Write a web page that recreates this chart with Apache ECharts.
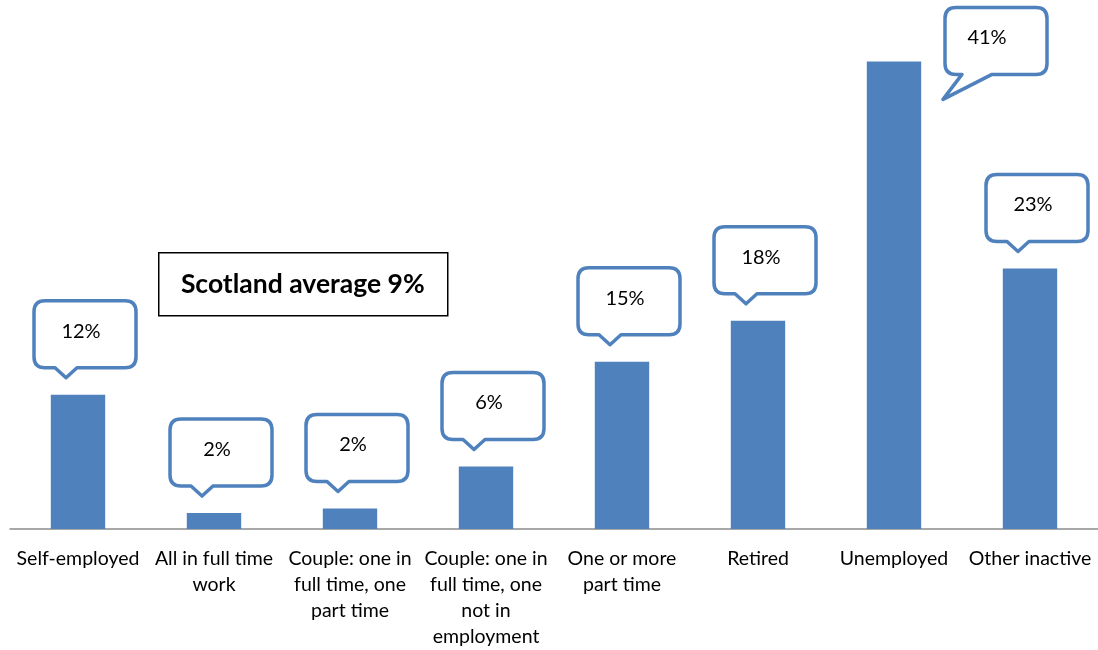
<!DOCTYPE html>
<html>
<head>
<meta charset="utf-8">
<script src="https://cdn.jsdelivr.net/npm/echarts@6/dist/echarts.min.js"></script>
<style>
  html, body { margin: 0; padding: 0; background: #fff; }
  #chart { width: 1098px; height: 650px; }
</style>
</head>
<body>
<div id="chart"></div>
<script>
  const categories = [
    'Self-employed',
    'All in full time\nwork',
    'Couple: one in\nfull time, one\npart time',
    'Couple: one in\nfull time, one\nnot in\nemployment',
    'One or more\npart time',
    'Retired',
    'Unemployed',
    'Other inactive'
  ];
  const rates = [11.8, 1.4, 1.8, 5.5, 14.7, 18.3, 41.1, 22.9];
  const rateLabels = ['12%', '2%', '2%', '6%', '15%', '18%', '41%', '23%'];
  const averageText = 'Scotland average 9%';

  const blue = '#4F81BD';
  const font = 'Lato, "Open Sans", sans-serif';

  // speech bubble above the bar, or to the right when there is no room above
  function bubble(params, api) {
    const i = api.value(0);
    const top = api.coord([i, api.value(1)]);
    const w = 102, h = 67, r = 11;
    let x, y, tail, tx;
    if (top[1] - 26 - h - 11 > 0) {
      x = top[0] - 44;
      y = top[1] - 27 - h;
      tail = [[x + 43, y + h], [x + 32, y + h + 10], [x + 21, y + h]];
      tx = x + w / 2 - 4;
    } else {
      x = top[0] + 51;
      y = top[1] - 54;
      tail = [[x + 47, y + h], [x - 2, y + h + 25], [x + 17, y + h]];
      tx = x + w / 2 - 9;
    }
    const d = 'M' + (x + r) + ',' + y +
      ' L' + (x + w - r) + ',' + y +
      ' Q' + (x + w) + ',' + y + ' ' + (x + w) + ',' + (y + r) +
      ' L' + (x + w) + ',' + (y + h - r) +
      ' Q' + (x + w) + ',' + (y + h) + ' ' + (x + w - r) + ',' + (y + h) +
      ' L' + tail[0][0] + ',' + tail[0][1] +
      ' L' + tail[1][0] + ',' + tail[1][1] +
      ' L' + tail[2][0] + ',' + tail[2][1] +
      ' L' + (x + r) + ',' + (y + h) +
      ' Q' + x + ',' + (y + h) + ' ' + x + ',' + (y + h - r) +
      ' L' + x + ',' + (y + r) +
      ' Q' + x + ',' + y + ' ' + (x + r) + ',' + y + ' Z';
    return {
      type: 'group',
      children: [
        {
          type: 'path',
          shape: { pathData: d },
          style: { fill: '#fff', stroke: blue, lineWidth: 3.5, lineJoin: 'round' }
        },
        {
          type: 'text',
          style: {
            text: rateLabels[params.dataIndex],
            x: tx, y: y + h / 2 - 3,
            align: 'center', verticalAlign: 'middle',
            fontSize: 20, fontFamily: font, fill: '#000'
          }
        }
      ]
    };
  }

  const chart = echarts.init(document.getElementById('chart'));
  chart.setOption({
    animation: false,
    grid: { left: 10, right: 0, top: 0, bottom: 118 },
    xAxis: {
      type: 'category',
      data: categories,
      axisLine: { lineStyle: { color: '#8c8c8c', width: 1.5 } },
      axisTick: { length: 6, lineStyle: { color: '#8c8c8c', width: 1.5 } },
      axisLabel: {
        interval: 0, margin: 17, color: '#000',
        fontSize: 19.5, lineHeight: 26, fontFamily: font
      }
    },
    yAxis: {
      type: 'value', min: 0, max: 46.5, show: false,
      splitLine: { show: false }
    },
    series: [
      {
        type: 'bar',
        data: rates,
        barWidth: '40%',
        itemStyle: { color: blue }
      },
      {
        type: 'custom',
        data: rates.map((v, i) => [i, v]),
        renderItem: bubble,
        clip: false,
        z: 5
      }
    ],
    graphic: [
      {
        type: 'group',
        left: 158, top: 252,
        children: [
          {
            type: 'rect',
            shape: { x: 0, y: 0, width: 289, height: 63 },
            style: { fill: '#fff', stroke: '#000', lineWidth: 1.5 }
          },
          {
            type: 'text',
            style: {
              text: averageText, x: 144, y: 32,
              align: 'center', verticalAlign: 'middle',
              fontSize: 26.5, fontWeight: 'bold', fontFamily: font, fill: '#000'
            }
          }
        ]
      }
    ]
  });
</script>
</body>
</html>
